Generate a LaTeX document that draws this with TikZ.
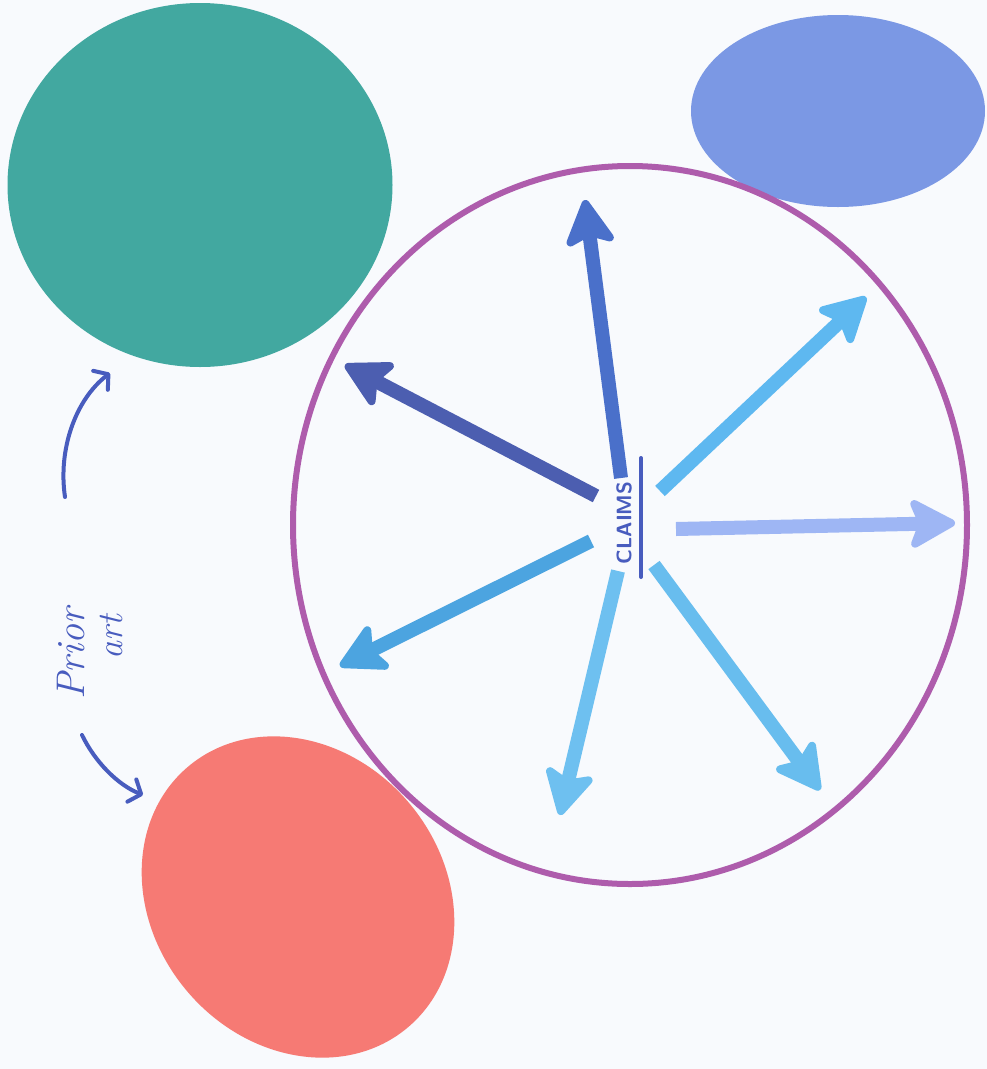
\documentclass[tikz,border=0pt]{standalone}
\usetikzlibrary{arrows.meta,shapes.geometric}
\definecolor{bgc}{RGB}{248,250,253}
\definecolor{tealc}{RGB}{66,168,160}
\definecolor{bluee}{RGB}{123,152,228}
\definecolor{redc}{RGB}{246,122,116}
\definecolor{purc}{RGB}{174,92,172}
\definecolor{penc}{RGB}{72,92,190}
\definecolor{aup}{RGB}{74,112,202}
\definecolor{aul}{RGB}{76,94,176}
\definecolor{aur}{RGB}{94,184,240}
\definecolor{ar}{RGB}{158,182,244}
\definecolor{all}{RGB}{76,164,224}
\definecolor{alo}{RGB}{110,192,240}
\definecolor{alr}{RGB}{104,189,238}
\tikzset{
  blob/.style={ellipse, draw=none, inner sep=0pt},
  bigarrow/.style={line width=14pt, -{Stealth[length=52pt,width=56pt,inset=11pt,round,line width=8pt]}},
  pen/.style={draw=penc, line width=4pt, line cap=round, line join=round},
  penarrow/.style={pen, -{Straight Barb[length=10pt,width=24pt,round]}},
  hand/.style={text=penc, font=\fontsize{40}{40}\selectfont\itshape, inner sep=0pt}
}
\begin{document}
\begin{tikzpicture}[x=1pt,y=-1pt]
\fill[bgc] (0,0) rectangle (987,1069);
\useasboundingbox (0,0) rectangle (987,1069);
% blobs
\node[blob, fill=tealc, minimum width=385pt, minimum height=364pt] (teal) at (200,185) {};
\node[blob, fill=bluee, minimum width=294pt, minimum height=192pt] (blue) at (838,111) {};
\node[blob, fill=redc, minimum width=341pt, minimum height=291pt, rotate=-50] (red) at (298,897) {};
% claims circle
\node[ellipse, draw=purc, line width=6pt, minimum width=674pt, minimum height=718pt, inner sep=0pt] (claimset) at (630,525) {};
% CLAIMS label
\node[rotate=90, text=penc, font=\sffamily\bfseries\fontsize{21}{21}\selectfont, inner sep=0pt] (claims) at (624,523) {CLAIMS};
\coordinate (ulA) at (641,458);
\coordinate (ulB) at (641,577);
\draw[pen] (ulA) -- (ulB);
% arrows
\coordinate (t1) at (621,478); \coordinate (h1) at (585,200);
\coordinate (t2) at (596,496); \coordinate (h2) at (345,365);
\coordinate (t3) at (660,491); \coordinate (h3) at (866,297);
\coordinate (t4) at (676,529); \coordinate (h4) at (955,523);
\coordinate (t5) at (591,541); \coordinate (h5) at (340,666);
\coordinate (t6) at (618,571); \coordinate (h6) at (560,815);
\coordinate (t7) at (654,565); \coordinate (h7) at (820,790);
\draw[bigarrow, aup] (t1) -- (h1);
\draw[bigarrow, aul] (t2) -- (h2);
\draw[bigarrow, aur] (t3) -- (h3);
\draw[bigarrow, ar] (t4) -- (h4);
\draw[bigarrow, all] (t5) -- (h5);
\draw[bigarrow, alo] (t6) -- (h6);
\draw[bigarrow, alr] (t7) -- (h7);
% prior art annotation
\node[hand, rotate=90, anchor=base west] (prior) at (84,700) {Prior};
\node[hand, rotate=90, anchor=base west, font=\fontsize{36}{36}\selectfont\itshape] (art) at (122,660) {art};
\coordinate (c1s) at (65,497);
\coordinate (c1e) at (110,373);
\draw[penarrow] (c1s) .. controls (58,450) and (75,400) .. (c1e);
\coordinate (c2s) at (82,735);
\coordinate (c2e) at (143,795);
\draw[penarrow] (c2s) .. controls (95,762) and (118,785) .. (c2e);
\end{tikzpicture}
\end{document}
